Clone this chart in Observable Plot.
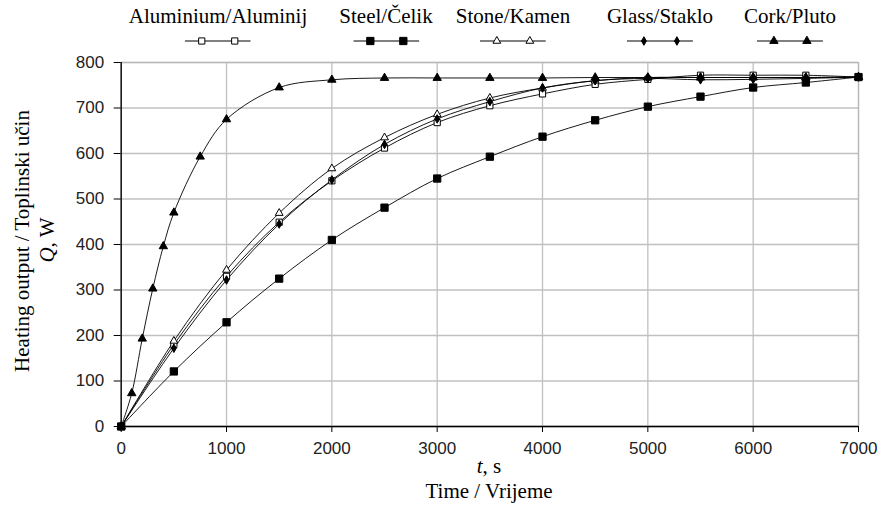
<!DOCTYPE html>
<html><head><meta charset="utf-8">
<script src="https://cdn.jsdelivr.net/npm/d3@7"></script>
<script src="https://cdn.jsdelivr.net/npm/@observablehq/plot@0.6"></script>
<style>
body{margin:0;background:#fff;}
#wrap{position:relative;width:881px;height:523px;font-family:"Liberation Serif","Times New Roman",serif;color:#000;overflow:hidden;}
#wrap svg.plot{position:absolute;left:0;top:0;}
.leg{position:absolute;top:3px;transform:translateX(-50%);text-align:center;font-size:21px;white-space:nowrap;line-height:26px;}
.leg svg{display:block;margin:6px auto 0 auto;}
.ttl{position:absolute;font-size:21px;white-space:nowrap;transform:translate(-50%,-50%);line-height:24px;}
.rot{transform:translate(-50%,-50%) rotate(-90deg);}
</style></head>
<body>
<div id="wrap"></div>
<script>
// ---- data ----
const seriesNames = ["Aluminium/Aluminij","Steel/Čelik","Stone/Kamen","Glass/Staklo","Cork/Pluto"];
const timeStd = [0,500,1000,1500,2000,2500,3000,3500,4000,4500,5000,5500,6000,6500,7000];
const aluminium = [0,180,330,449,540,612,668,705,731,752,763,772,772,772,768];
const steel     = [0,121,229,325,410,481,545,593,637,673,703,725,745,756,768];
const stone     = [0,188,344,469,567,635,686,722,744,760,767,767,767,767,768];
const glass     = [0,172,322,445,542,620,676,714,744,760,765,762,763,765,768];
const timeCork  = [0,100,200,300,400,500,750,1000,1500,2000,2500,3000,3500,4000,4500,5000,5500,6000,6500,7000];
const cork      = [0,73,193,303,396,470,593,675,745,762,766,766,766,766,767,767,767,767,767,768];
const xTicks = [0,1000,2000,3000,4000,5000,6000,7000];
const yTicks = [0,100,200,300,400,500,600,700,800];

const seriesValues = [aluminium, steel, stone, glass, cork];
const seriesTimes  = [timeStd, timeStd, timeStd, timeStd, timeCork];
const rows = [];
seriesNames.forEach((name, i) => {
  seriesValues[i].forEach((v, j) => rows.push({series: name, t: seriesTimes[i][j], q: v}));
});

// marker styles
const markerStyle = {
  "Aluminium/Aluminij": {symbol: "square", fill: "white", r: 3.5},
  "Steel/Čelik":        {symbol: "square", fill: "black", r: 4.1},
  "Stone/Kamen":        {symbol: "triangle", fill: "white", r: 2.9},
  "Glass/Staklo":       {symbol: "diamond", fill: "black", r: 2.6},
  "Cork/Pluto":         {symbol: "triangle", fill: "black", r: 3.1}
};

const W = 881, H = 523;
const mL = 120.7, mR = 23, mT = 62, mB = 97;

const marks = [
  Plot.gridX(xTicks, {stroke: "#c0c0c0", strokeOpacity: 1, strokeWidth: 1.3}),
  Plot.gridY(yTicks, {stroke: "#c0c0c0", strokeOpacity: 1, strokeWidth: 1.3}),
  Plot.frame({stroke: "#b8b8b8", strokeWidth: 1.3}),
  Plot.axisX(xTicks, {tickSize: 6, tickPadding: 9, tickFormat: d => String(d), fontSize: 17, fontFamily: "Liberation Sans, Arial, sans-serif", fill: "#222", stroke: "black", label: null}),
  Plot.axisY(yTicks, {tickSize: 7, tickPadding: 10, tickFormat: d => String(d), fontSize: 17, fontFamily: "Liberation Sans, Arial, sans-serif", fill: "#222", stroke: "black", label: null}),
  Plot.ruleY([0], {stroke: "black", strokeWidth: 1.3}),
  Plot.ruleX([0], {stroke: "black", strokeWidth: 1.3})
];
seriesNames.forEach(name => {
  const d = rows.filter(r => r.series === name);
  marks.push(Plot.line(d, {x: "t", y: "q", curve: "catmull-rom", stroke: "black", strokeWidth: 0.9}));
});
seriesNames.forEach(name => {
  const d = rows.filter(r => r.series === name);
  const s = markerStyle[name];
  marks.push(Plot.dot(d, {x: "t", y: "q", symbol: () => s.symbol, r: s.r, fill: s.fill, stroke: "black", strokeWidth: 1}));
});

const chart = Plot.plot({
  width: W, height: H,
  marginLeft: mL, marginRight: mR, marginTop: mT, marginBottom: mB,
  x: {domain: [0, 7000]},
  y: {domain: [0, 800]},
  symbol: {type: "identity"},
  style: {background: "white"},
  marks
});
chart.classList.add("plot");
const wrap = document.getElementById("wrap");
wrap.appendChild(chart);

// ---- legend ----
const legendCenters = [218, 386, 513, 660, 790];
const symType = {square: d3.symbolSquare, triangle: d3.symbolTriangle, diamond: d3.symbolDiamond};
seriesNames.forEach((name, i) => {
  const div = document.createElement("div");
  div.className = "leg";
  div.style.left = legendCenters[i] + "px";
  div.textContent = name;
  const s = markerStyle[name];
  const svg = d3.create("svg").attr("width", 66).attr("height", 12);
  svg.append("line").attr("x1", 0).attr("x2", 66).attr("y1", 6).attr("y2", 6).attr("stroke", "black").attr("stroke-width", 1);
  [17, 50].forEach(px => {
    svg.append("path").attr("d", d3.symbol(symType[s.symbol], Math.PI * s.r * s.r)())
      .attr("transform", `translate(${px},6)`).attr("fill", s.fill).attr("stroke", "black").attr("stroke-width", 1);
  });
  div.appendChild(svg.node());
  wrap.appendChild(div);
});

// ---- axis titles ----
function addTitle(html, x, y, rot) {
  const d = document.createElement("div");
  d.className = "ttl" + (rot ? " rot" : "");
  d.style.left = x + "px"; d.style.top = y + "px";
  d.innerHTML = html;
  wrap.appendChild(d);
}
addTitle("<i>t</i>, s", 489, 466, false);
addTitle("Time / Vrijeme", 489, 491, false);
addTitle("Heating output / Toplinski učin", 22, 241, true);
addTitle("<i>Q</i>, W", 47, 240, true);
</script>
</body></html>
